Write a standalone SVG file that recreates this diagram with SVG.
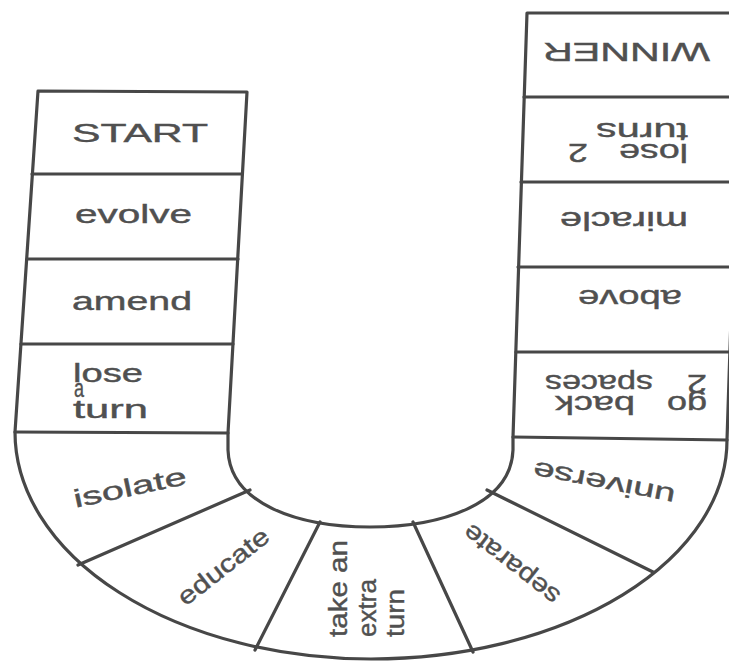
<svg xmlns="http://www.w3.org/2000/svg" width="729" height="664" viewBox="0 0 729 664">
<style>
.ln{fill:none;stroke:#474747;stroke-width:3.2;stroke-linejoin:round;stroke-linecap:round}
text{font-family:"Liberation Sans",Arial,sans-serif;fill:#505050;stroke:#505050;stroke-width:0.4;font-size:25px}
</style>
<rect width="729" height="664" fill="#fff"/>
<g id="connectors">
<path class="ln" d="M38,91 L247,92 L228,433 L228,450 C230,505 300,527 370,527 C440,527 511,505 513,450 L513,437 L527,13 L741,13 L727,440 A356 219 0 0 1 371 659 A356 227 0 0 1 15 432 Z"/>
<path class="ln" d="M32,174 L242,174 M27,259 L238,259 M21,344 L233,344 M15,432 L228,433"/>
<path class="ln" d="M524,97 L740,97 M521,182 L740,182 M518,267 L740,267 M516,352 L740,352 M513,437 L727,440"/>
<path class="ln" d="M250,490 L78,565 M320,522 L255,650 M413,522 L473,652 M487,490 L653,572"/>
</g>
<g id="start"><text x="72" y="142" font-size="26" textLength="136" lengthAdjust="spacingAndGlyphs">START</text></g>
<g id="evolve"><text x="75" y="223" textLength="117" lengthAdjust="spacingAndGlyphs">evolve</text></g>
<g id="amend"><text x="72" y="310" textLength="120" lengthAdjust="spacingAndGlyphs">amend</text></g>
<g id="lose-a-turn">
<text x="73" y="382" font-size="23" textLength="70" lengthAdjust="spacingAndGlyphs">lose</text>
<text x="74" y="397" font-size="15" textLength="10" lengthAdjust="spacingAndGlyphs">a</text>
<text x="73" y="418" font-size="23" textLength="75" lengthAdjust="spacingAndGlyphs">turn</text>
</g>
<g id="isolate" transform="translate(130,488) rotate(-12)"><text x="-57.5" y="8" textLength="115" lengthAdjust="spacingAndGlyphs">isolate</text></g>
<g id="educate" transform="translate(223,566) rotate(-38)"><text x="-54.5" y="9" font-size="27" textLength="109" lengthAdjust="spacingAndGlyphs">educate</text></g>
<g id="take-an-extra-turn" transform="translate(347,637) rotate(-90)">
<text x="0" y="0" font-size="30" textLength="97" lengthAdjust="spacingAndGlyphs">take an</text>
<text x="0" y="29" font-size="30" textLength="58" lengthAdjust="spacingAndGlyphs">extra</text>
<text x="0" y="57" font-size="30" textLength="48" lengthAdjust="spacingAndGlyphs">turn</text>
</g>
<g id="separate" transform="translate(511,565) rotate(218)"><text x="-57.5" y="9" font-size="27" textLength="115" lengthAdjust="spacingAndGlyphs">separate</text></g>
<g id="universe" transform="translate(604,483) rotate(191)"><text x="-72" y="8" textLength="144" lengthAdjust="spacingAndGlyphs">universe</text></g>
<g id="go-back-2-spaces" transform="translate(707,396) rotate(180)">
<text x="0" y="0" font-size="24" textLength="40" lengthAdjust="spacingAndGlyphs">go</text>
<text x="72" y="0" font-size="24" textLength="80" lengthAdjust="spacingAndGlyphs">back</text>
<text x="0" y="21" font-size="24" textLength="20" lengthAdjust="spacingAndGlyphs">2</text>
<text x="54" y="21" font-size="24" textLength="108" lengthAdjust="spacingAndGlyphs">spaces</text>
</g>
<g id="above" transform="translate(682,290) rotate(180)"><text x="0" y="0" font-size="24" textLength="104" lengthAdjust="spacingAndGlyphs">above</text></g>
<g id="miracle" transform="translate(688,212) rotate(180)"><text x="0" y="0" font-size="24" textLength="128" lengthAdjust="spacingAndGlyphs">miracle</text></g>
<g id="lose-2-turns" transform="translate(688,144) rotate(180)">
<text x="0" y="0" font-size="22" textLength="69" lengthAdjust="spacingAndGlyphs">lose</text>
<text x="100" y="0" font-size="22" textLength="20" lengthAdjust="spacingAndGlyphs">2</text>
<text x="0" y="21" font-size="22" textLength="92" lengthAdjust="spacingAndGlyphs">turns</text>
</g>
<g id="winner" transform="translate(710,43) rotate(180)"><text x="0" y="0" font-size="27" textLength="167" lengthAdjust="spacingAndGlyphs">WINNER</text></g>
</svg>
